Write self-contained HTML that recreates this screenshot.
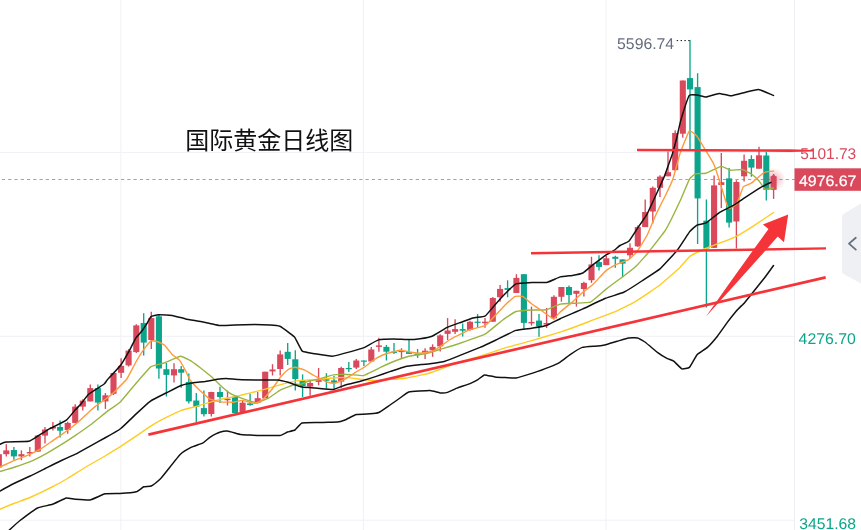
<!DOCTYPE html>
<html lang="zh"><head><meta charset="utf-8"><title>国际黄金日线图</title>
<style>html,body{margin:0;padding:0;background:#fff;overflow:hidden}svg{display:block}</style></head>
<body>
<svg width="861" height="530" viewBox="0 0 861 530">
<rect width="861" height="530" fill="#fff"/>
<line x1="120.9" y1="0" x2="120.9" y2="530" stroke="#f0f1f6" stroke-width="1"/>
<line x1="363.4" y1="0" x2="363.4" y2="530" stroke="#f0f1f6" stroke-width="1"/>
<line x1="606.0" y1="0" x2="606.0" y2="530" stroke="#f0f1f6" stroke-width="1"/>
<line x1="0" y1="152.4" x2="794.5" y2="152.4" stroke="#f0f1f6" stroke-width="1"/>
<line x1="0" y1="336.3" x2="794.5" y2="336.3" stroke="#f0f1f6" stroke-width="1"/>
<line x1="0" y1="520.2" x2="794.5" y2="520.2" stroke="#f0f1f6" stroke-width="1"/>
<line x1="794.5" y1="0" x2="794.5" y2="530" stroke="#eceef4" stroke-width="1"/>
<line x1="-4.37" y1="179.5" x2="795" y2="179.5" stroke="#e4858f" stroke-width="1" stroke-dasharray="3.2 3.07"/>
<line x1="-1.20" y1="452.5" x2="-1.20" y2="468.5" stroke="#d9485b" stroke-width="1.35"/>
<rect x="-4.25" y="454.2" width="6.1" height="13.3" fill="#d9485b"/>
<line x1="6.30" y1="444.3" x2="6.30" y2="456.4" stroke="#d9485b" stroke-width="1.35"/>
<rect x="3.25" y="450.4" width="6.1" height="3.8" fill="#d9485b"/>
<line x1="13.90" y1="447" x2="13.90" y2="459.7" stroke="#0ca48b" stroke-width="1.35"/>
<rect x="10.85" y="450" width="6.1" height="6.4" fill="#0ca48b"/>
<line x1="21.40" y1="450.4" x2="21.40" y2="460.2" stroke="#d9485b" stroke-width="1.35"/>
<rect x="18.35" y="454.2" width="6.1" height="2.2" fill="#d9485b"/>
<line x1="29.80" y1="447" x2="29.80" y2="456.4" stroke="#d9485b" stroke-width="1.35"/>
<rect x="26.75" y="452" width="6.1" height="1.4" fill="#d9485b"/>
<line x1="37.80" y1="435" x2="37.80" y2="452" stroke="#d9485b" stroke-width="1.35"/>
<rect x="34.75" y="435.6" width="6.1" height="16.0" fill="#d9485b"/>
<line x1="45.00" y1="427" x2="45.00" y2="443.6" stroke="#d9485b" stroke-width="1.35"/>
<rect x="41.95" y="429.5" width="6.1" height="6.1" fill="#d9485b"/>
<line x1="52.90" y1="422" x2="52.90" y2="430.4" stroke="#d9485b" stroke-width="1.35"/>
<rect x="49.85" y="427" width="6.1" height="1.5" fill="#d9485b"/>
<line x1="60.10" y1="420.5" x2="60.10" y2="437.5" stroke="#0ca48b" stroke-width="1.35"/>
<rect x="57.05" y="427" width="6.1" height="3.7" fill="#0ca48b"/>
<line x1="67.70" y1="421.7" x2="67.70" y2="433.8" stroke="#d9485b" stroke-width="1.35"/>
<rect x="64.65" y="422.9" width="6.1" height="7.1" fill="#d9485b"/>
<line x1="75.20" y1="404.3" x2="75.20" y2="423.2" stroke="#d9485b" stroke-width="1.35"/>
<rect x="72.15" y="406.6" width="6.1" height="16.3" fill="#d9485b"/>
<line x1="82.80" y1="399.2" x2="82.80" y2="410.4" stroke="#d9485b" stroke-width="1.35"/>
<rect x="79.75" y="400.6" width="6.1" height="6.0" fill="#d9485b"/>
<line x1="90.30" y1="384.4" x2="90.30" y2="401.4" stroke="#d9485b" stroke-width="1.35"/>
<rect x="87.25" y="388.1" width="6.1" height="13.3" fill="#d9485b"/>
<line x1="97.90" y1="384.4" x2="97.90" y2="410.4" stroke="#0ca48b" stroke-width="1.35"/>
<rect x="94.85" y="388.1" width="6.1" height="14.5" fill="#0ca48b"/>
<line x1="105.40" y1="393" x2="105.40" y2="408.9" stroke="#d9485b" stroke-width="1.35"/>
<rect x="102.35" y="395.3" width="6.1" height="6.1" fill="#d9485b"/>
<line x1="113.50" y1="372.7" x2="113.50" y2="395" stroke="#d9485b" stroke-width="1.35"/>
<rect x="110.45" y="373" width="6.1" height="20.8" fill="#d9485b"/>
<line x1="121.10" y1="358.3" x2="121.10" y2="378" stroke="#d9485b" stroke-width="1.35"/>
<rect x="118.05" y="365.8" width="6.1" height="7.0" fill="#d9485b"/>
<line x1="128.60" y1="349.1" x2="128.60" y2="366.5" stroke="#d9485b" stroke-width="1.35"/>
<rect x="125.55" y="350.6" width="6.1" height="14.8" fill="#d9485b"/>
<line x1="136.30" y1="324.2" x2="136.30" y2="352.9" stroke="#d9485b" stroke-width="1.35"/>
<rect x="133.25" y="325.4" width="6.1" height="26.7" fill="#d9485b"/>
<line x1="143.70" y1="313.3" x2="143.70" y2="355.6" stroke="#0ca48b" stroke-width="1.35"/>
<rect x="140.65" y="323" width="6.1" height="19.6" fill="#0ca48b"/>
<line x1="151.30" y1="311.8" x2="151.30" y2="349.1" stroke="#d9485b" stroke-width="1.35"/>
<rect x="148.25" y="318.1" width="6.1" height="21.9" fill="#d9485b"/>
<line x1="158.90" y1="314.4" x2="158.90" y2="378.7" stroke="#0ca48b" stroke-width="1.35"/>
<rect x="155.85" y="316.3" width="6.1" height="52.2" fill="#0ca48b"/>
<line x1="166.40" y1="362.8" x2="166.40" y2="396.5" stroke="#0ca48b" stroke-width="1.35"/>
<rect x="163.35" y="369.2" width="6.1" height="5.7" fill="#0ca48b"/>
<line x1="174.00" y1="363.3" x2="174.00" y2="382.5" stroke="#d9485b" stroke-width="1.35"/>
<rect x="170.95" y="369.2" width="6.1" height="6.2" fill="#d9485b"/>
<line x1="181.20" y1="365.9" x2="181.20" y2="387.8" stroke="#0ca48b" stroke-width="1.35"/>
<rect x="178.15" y="369.2" width="6.1" height="3.5" fill="#0ca48b"/>
<line x1="188.80" y1="373.4" x2="188.80" y2="403.6" stroke="#0ca48b" stroke-width="1.35"/>
<rect x="185.75" y="382" width="6.1" height="19.4" fill="#0ca48b"/>
<line x1="196.30" y1="393" x2="196.30" y2="422" stroke="#0ca48b" stroke-width="1.35"/>
<rect x="193.25" y="400.5" width="6.1" height="6.3" fill="#0ca48b"/>
<line x1="203.90" y1="390.5" x2="203.90" y2="416.5" stroke="#0ca48b" stroke-width="1.35"/>
<rect x="200.85" y="408.1" width="6.1" height="6.1" fill="#0ca48b"/>
<line x1="211.30" y1="391.8" x2="211.30" y2="416.5" stroke="#d9485b" stroke-width="1.35"/>
<rect x="208.25" y="392" width="6.1" height="22.0" fill="#d9485b"/>
<line x1="220.00" y1="386.8" x2="220.00" y2="403" stroke="#0ca48b" stroke-width="1.35"/>
<rect x="216.95" y="392" width="6.1" height="5.0" fill="#0ca48b"/>
<line x1="227.50" y1="390.6" x2="227.50" y2="405.5" stroke="#d9485b" stroke-width="1.35"/>
<rect x="224.45" y="398.7" width="6.1" height="1.5" fill="#d9485b"/>
<line x1="235.00" y1="396.6" x2="235.00" y2="413.3" stroke="#0ca48b" stroke-width="1.35"/>
<rect x="231.95" y="396.7" width="6.1" height="16.3" fill="#0ca48b"/>
<line x1="242.60" y1="400.4" x2="242.60" y2="412.2" stroke="#d9485b" stroke-width="1.35"/>
<rect x="239.55" y="402.7" width="6.1" height="9.3" fill="#d9485b"/>
<line x1="250.10" y1="393.6" x2="250.10" y2="405.7" stroke="#0ca48b" stroke-width="1.35"/>
<rect x="247.05" y="403.4" width="6.1" height="1.6" fill="#0ca48b"/>
<line x1="257.70" y1="392.1" x2="257.70" y2="403.4" stroke="#d9485b" stroke-width="1.35"/>
<rect x="254.65" y="398.2" width="6.1" height="4.5" fill="#d9485b"/>
<line x1="265.20" y1="371.7" x2="265.20" y2="398.2" stroke="#d9485b" stroke-width="1.35"/>
<rect x="262.15" y="371.7" width="6.1" height="26.5" fill="#d9485b"/>
<line x1="272.50" y1="364.2" x2="272.50" y2="375.5" stroke="#d9485b" stroke-width="1.35"/>
<rect x="269.45" y="369.5" width="6.1" height="1.9" fill="#d9485b"/>
<line x1="280.20" y1="350.6" x2="280.20" y2="375.5" stroke="#d9485b" stroke-width="1.35"/>
<rect x="277.15" y="354.4" width="6.1" height="14.6" fill="#d9485b"/>
<line x1="287.70" y1="343" x2="287.70" y2="364.9" stroke="#0ca48b" stroke-width="1.35"/>
<rect x="284.65" y="351.8" width="6.1" height="7.1" fill="#0ca48b"/>
<line x1="295.30" y1="350.3" x2="295.30" y2="390.6" stroke="#0ca48b" stroke-width="1.35"/>
<rect x="292.25" y="359.3" width="6.1" height="19.7" fill="#0ca48b"/>
<line x1="302.60" y1="374.4" x2="302.60" y2="397" stroke="#0ca48b" stroke-width="1.35"/>
<rect x="299.55" y="380" width="6.1" height="6.0" fill="#0ca48b"/>
<line x1="310.10" y1="379.7" x2="310.10" y2="395.7" stroke="#d9485b" stroke-width="1.35"/>
<rect x="307.05" y="383" width="6.1" height="3.5" fill="#d9485b"/>
<line x1="318.60" y1="368" x2="318.60" y2="385.3" stroke="#d9485b" stroke-width="1.35"/>
<rect x="315.55" y="380.1" width="6.1" height="1.8" fill="#d9485b"/>
<line x1="326.40" y1="373.2" x2="326.40" y2="388.7" stroke="#0ca48b" stroke-width="1.35"/>
<rect x="323.35" y="379.2" width="6.1" height="1.5" fill="#0ca48b"/>
<line x1="334.00" y1="375.9" x2="334.00" y2="388.7" stroke="#0ca48b" stroke-width="1.35"/>
<rect x="330.95" y="380.4" width="6.1" height="2.3" fill="#0ca48b"/>
<line x1="341.20" y1="366.8" x2="341.20" y2="388" stroke="#d9485b" stroke-width="1.35"/>
<rect x="338.15" y="368" width="6.1" height="13.6" fill="#d9485b"/>
<line x1="348.80" y1="362" x2="348.80" y2="372.1" stroke="#0ca48b" stroke-width="1.35"/>
<rect x="345.75" y="368" width="6.1" height="1.2" fill="#0ca48b"/>
<line x1="356.30" y1="359" x2="356.30" y2="369.1" stroke="#d9485b" stroke-width="1.35"/>
<rect x="353.25" y="360.5" width="6.1" height="7.1" fill="#d9485b"/>
<line x1="363.90" y1="360.5" x2="363.90" y2="366.1" stroke="#0ca48b" stroke-width="1.35"/>
<rect x="360.85" y="360.5" width="6.1" height="1.2" fill="#0ca48b"/>
<line x1="371.30" y1="346.9" x2="371.30" y2="362" stroke="#d9485b" stroke-width="1.35"/>
<rect x="368.25" y="349.5" width="6.1" height="12.0" fill="#d9485b"/>
<line x1="378.90" y1="337.8" x2="378.90" y2="351.7" stroke="#d9485b" stroke-width="1.35"/>
<rect x="375.85" y="345.4" width="6.1" height="1.5" fill="#d9485b"/>
<line x1="386.40" y1="344.9" x2="386.40" y2="360.5" stroke="#0ca48b" stroke-width="1.35"/>
<rect x="383.35" y="346.9" width="6.1" height="4.8" fill="#0ca48b"/>
<line x1="394.00" y1="343" x2="394.00" y2="354" stroke="#0ca48b" stroke-width="1.35"/>
<rect x="390.95" y="351.7" width="6.1" height="1.2" fill="#0ca48b"/>
<line x1="401.50" y1="348.2" x2="401.50" y2="357.9" stroke="#d9485b" stroke-width="1.35"/>
<rect x="398.45" y="350.7" width="6.1" height="1.4" fill="#d9485b"/>
<line x1="409.00" y1="339.2" x2="409.00" y2="353.9" stroke="#0ca48b" stroke-width="1.35"/>
<rect x="405.95" y="352.1" width="6.1" height="1.8" fill="#0ca48b"/>
<line x1="417.60" y1="349" x2="417.60" y2="357.9" stroke="#0ca48b" stroke-width="1.35"/>
<rect x="414.55" y="353.9" width="6.1" height="1.3" fill="#0ca48b"/>
<line x1="425.10" y1="348.2" x2="425.10" y2="358.9" stroke="#d9485b" stroke-width="1.35"/>
<rect x="422.05" y="350.7" width="6.1" height="2.1" fill="#d9485b"/>
<line x1="432.60" y1="344.3" x2="432.60" y2="356.8" stroke="#d9485b" stroke-width="1.35"/>
<rect x="429.55" y="346.9" width="6.1" height="3.4" fill="#d9485b"/>
<line x1="440.20" y1="334.3" x2="440.20" y2="351.6" stroke="#d9485b" stroke-width="1.35"/>
<rect x="437.15" y="335.4" width="6.1" height="11.0" fill="#d9485b"/>
<line x1="447.60" y1="318.1" x2="447.60" y2="340.1" stroke="#d9485b" stroke-width="1.35"/>
<rect x="444.55" y="330.5" width="6.1" height="3.4" fill="#d9485b"/>
<line x1="455.10" y1="319.2" x2="455.10" y2="333.9" stroke="#d9485b" stroke-width="1.35"/>
<rect x="452.05" y="329.1" width="6.1" height="2.7" fill="#d9485b"/>
<line x1="462.70" y1="323.5" x2="462.70" y2="336.6" stroke="#0ca48b" stroke-width="1.35"/>
<rect x="459.65" y="329.1" width="6.1" height="1.6" fill="#0ca48b"/>
<line x1="470.00" y1="320.7" x2="470.00" y2="330.7" stroke="#d9485b" stroke-width="1.35"/>
<rect x="466.95" y="321.8" width="6.1" height="8.1" fill="#d9485b"/>
<line x1="477.60" y1="314.1" x2="477.60" y2="327.1" stroke="#0ca48b" stroke-width="1.35"/>
<rect x="474.55" y="321.7" width="6.1" height="1.2" fill="#0ca48b"/>
<line x1="485.00" y1="318" x2="485.00" y2="327.7" stroke="#d9485b" stroke-width="1.35"/>
<rect x="481.95" y="321.7" width="6.1" height="1.5" fill="#d9485b"/>
<line x1="492.80" y1="296.9" x2="492.80" y2="321.7" stroke="#d9485b" stroke-width="1.35"/>
<rect x="489.75" y="298" width="6.1" height="23.7" fill="#d9485b"/>
<line x1="500.10" y1="285.1" x2="500.10" y2="301.7" stroke="#d9485b" stroke-width="1.35"/>
<rect x="497.05" y="288.9" width="6.1" height="8.3" fill="#d9485b"/>
<line x1="507.60" y1="280.3" x2="507.60" y2="297.2" stroke="#0ca48b" stroke-width="1.35"/>
<rect x="504.55" y="288.1" width="6.1" height="1.8" fill="#0ca48b"/>
<line x1="516.40" y1="274.2" x2="516.40" y2="293" stroke="#d9485b" stroke-width="1.35"/>
<rect x="513.35" y="277.9" width="6.1" height="15.1" fill="#d9485b"/>
<line x1="523.90" y1="274.2" x2="523.90" y2="328.9" stroke="#0ca48b" stroke-width="1.35"/>
<rect x="520.85" y="274.2" width="6.1" height="48.7" fill="#0ca48b"/>
<line x1="531.50" y1="306.6" x2="531.50" y2="325.6" stroke="#d9485b" stroke-width="1.35"/>
<rect x="528.45" y="321.9" width="6.1" height="1.5" fill="#d9485b"/>
<line x1="539.00" y1="314.1" x2="539.00" y2="336.8" stroke="#0ca48b" stroke-width="1.35"/>
<rect x="535.95" y="320.6" width="6.1" height="5.7" fill="#0ca48b"/>
<line x1="546.60" y1="308" x2="546.60" y2="328" stroke="#d9485b" stroke-width="1.35"/>
<rect x="543.55" y="323" width="6.1" height="1.5" fill="#d9485b"/>
<line x1="553.90" y1="295.3" x2="553.90" y2="319.5" stroke="#d9485b" stroke-width="1.35"/>
<rect x="550.85" y="296.8" width="6.1" height="21.5" fill="#d9485b"/>
<line x1="561.40" y1="287" x2="561.40" y2="301.7" stroke="#d9485b" stroke-width="1.35"/>
<rect x="558.35" y="287" width="6.1" height="9.8" fill="#d9485b"/>
<line x1="569.00" y1="285.5" x2="569.00" y2="303.2" stroke="#0ca48b" stroke-width="1.35"/>
<rect x="565.95" y="287" width="6.1" height="8.0" fill="#0ca48b"/>
<line x1="576.40" y1="290.8" x2="576.40" y2="306.6" stroke="#d9485b" stroke-width="1.35"/>
<rect x="573.35" y="290.8" width="6.1" height="3.0" fill="#d9485b"/>
<line x1="583.90" y1="281.7" x2="583.90" y2="296.5" stroke="#d9485b" stroke-width="1.35"/>
<rect x="580.85" y="282.9" width="6.1" height="6.1" fill="#d9485b"/>
<line x1="591.50" y1="256.8" x2="591.50" y2="282.9" stroke="#d9485b" stroke-width="1.35"/>
<rect x="588.45" y="264.4" width="6.1" height="15.8" fill="#d9485b"/>
<line x1="599.00" y1="255.3" x2="599.00" y2="270.4" stroke="#0ca48b" stroke-width="1.35"/>
<rect x="595.95" y="262.1" width="6.1" height="4.8" fill="#0ca48b"/>
<line x1="606.30" y1="255.7" x2="606.30" y2="265.1" stroke="#d9485b" stroke-width="1.35"/>
<rect x="603.25" y="258.3" width="6.1" height="6.8" fill="#d9485b"/>
<line x1="615.30" y1="255.7" x2="615.30" y2="267.8" stroke="#0ca48b" stroke-width="1.35"/>
<rect x="612.25" y="256.8" width="6.1" height="2.0" fill="#0ca48b"/>
<line x1="622.60" y1="259.4" x2="622.60" y2="277.2" stroke="#0ca48b" stroke-width="1.35"/>
<rect x="619.55" y="259.4" width="6.1" height="4.2" fill="#0ca48b"/>
<line x1="630.00" y1="243.3" x2="630.00" y2="259.1" stroke="#d9485b" stroke-width="1.35"/>
<rect x="626.95" y="247.8" width="6.1" height="7.5" fill="#d9485b"/>
<line x1="637.80" y1="225.6" x2="637.80" y2="247" stroke="#d9485b" stroke-width="1.35"/>
<rect x="634.75" y="227.1" width="6.1" height="19.2" fill="#d9485b"/>
<line x1="645.20" y1="199.5" x2="645.20" y2="227.1" stroke="#d9485b" stroke-width="1.35"/>
<rect x="642.15" y="212" width="6.1" height="15.1" fill="#d9485b"/>
<line x1="652.80" y1="186.6" x2="652.80" y2="223.6" stroke="#d9485b" stroke-width="1.35"/>
<rect x="649.75" y="187.8" width="6.1" height="23.7" fill="#d9485b"/>
<line x1="660.00" y1="175.3" x2="660.00" y2="196.9" stroke="#d9485b" stroke-width="1.35"/>
<rect x="656.95" y="176.6" width="6.1" height="11.2" fill="#d9485b"/>
<line x1="668.00" y1="151.4" x2="668.00" y2="176.3" stroke="#d9485b" stroke-width="1.35"/>
<rect x="664.95" y="172.2" width="6.1" height="4.1" fill="#d9485b"/>
<line x1="675.20" y1="130.2" x2="675.20" y2="171" stroke="#d9485b" stroke-width="1.35"/>
<rect x="672.15" y="132.9" width="6.1" height="37.3" fill="#d9485b"/>
<line x1="682.80" y1="80.5" x2="682.80" y2="137.8" stroke="#d9485b" stroke-width="1.35"/>
<rect x="679.75" y="80.5" width="6.1" height="53.2" fill="#d9485b"/>
<line x1="690.00" y1="39.9" x2="690.00" y2="149.1" stroke="#0ca48b" stroke-width="1.35"/>
<rect x="686.95" y="78.1" width="6.1" height="11.3" fill="#0ca48b"/>
<line x1="697.60" y1="73.2" x2="697.60" y2="244" stroke="#0ca48b" stroke-width="1.35"/>
<rect x="694.55" y="87.1" width="6.1" height="111.3" fill="#0ca48b"/>
<line x1="706.40" y1="199.5" x2="706.40" y2="307.6" stroke="#0ca48b" stroke-width="1.35"/>
<rect x="703.35" y="220.6" width="6.1" height="27.9" fill="#0ca48b"/>
<line x1="714.10" y1="175.6" x2="714.10" y2="248" stroke="#d9485b" stroke-width="1.35"/>
<rect x="711.05" y="185.4" width="6.1" height="62.4" fill="#d9485b"/>
<line x1="721.30" y1="153" x2="721.30" y2="208" stroke="#d9485b" stroke-width="1.35"/>
<rect x="718.25" y="182.2" width="6.1" height="2.8" fill="#d9485b"/>
<line x1="729.10" y1="168" x2="729.10" y2="227.6" stroke="#0ca48b" stroke-width="1.35"/>
<rect x="726.05" y="178.4" width="6.1" height="44.2" fill="#0ca48b"/>
<line x1="736.40" y1="180.3" x2="736.40" y2="248.5" stroke="#d9485b" stroke-width="1.35"/>
<rect x="733.35" y="182" width="6.1" height="39.5" fill="#d9485b"/>
<line x1="744.10" y1="154.4" x2="744.10" y2="181.4" stroke="#d9485b" stroke-width="1.35"/>
<rect x="741.05" y="160.8" width="6.1" height="15.5" fill="#d9485b"/>
<line x1="751.40" y1="155.3" x2="751.40" y2="176.7" stroke="#0ca48b" stroke-width="1.35"/>
<rect x="748.35" y="159" width="6.1" height="8.6" fill="#0ca48b"/>
<line x1="759.00" y1="146.8" x2="759.00" y2="168.7" stroke="#d9485b" stroke-width="1.35"/>
<rect x="755.95" y="155.3" width="6.1" height="13.4" fill="#d9485b"/>
<line x1="766.30" y1="152" x2="766.30" y2="200.4" stroke="#0ca48b" stroke-width="1.35"/>
<rect x="763.25" y="155.5" width="6.1" height="34.3" fill="#0ca48b"/>
<line x1="773.60" y1="174" x2="773.60" y2="198.9" stroke="#d9485b" stroke-width="1.35"/>
<rect x="770.55" y="176.3" width="6.1" height="13.5" fill="#d9485b"/>
<polygon points="770.5,177.5 773.6,174.2 776.7,177.5" fill="#d9485b"/>
<defs><radialGradient id="gl"><stop offset="0" stop-color="#d9485b" stop-opacity=".42"/><stop offset="1" stop-color="#d9485b" stop-opacity="0"/></radialGradient></defs>
<circle cx="773.6" cy="179.5" r="12" fill="url(#gl)"/>
<path d="M0.0 509.3 C0.9 508.9 13.2 503.7 15.0 503.0 C16.8 502.3 28.0 498.4 30.0 497.5 C32.0 496.6 47.8 489.1 50.0 488.0 C52.2 486.9 65.5 479.7 67.5 478.5 C69.5 477.3 82.8 468.8 85.0 467.5 C87.2 466.2 103.0 457.2 105.0 456.0 C107.0 454.8 118.2 447.9 120.0 446.8 C121.8 445.7 133.3 438.0 135.1 436.8 C136.9 435.6 148.4 427.4 150.2 426.3 C152.0 425.2 163.5 418.8 165.3 417.9 C167.1 417.0 178.6 411.5 180.4 410.8 C182.2 410.1 193.7 407.1 195.5 406.6 C197.3 406.1 208.8 402.6 210.6 402.1 C212.4 401.6 224.3 398.6 225.7 398.3 C227.1 398.0 233.9 396.9 235.3 396.6 C236.7 396.3 248.6 393.3 250.4 392.9 C252.2 392.5 263.7 389.6 265.5 389.1 C267.3 388.6 278.8 385.1 280.6 384.6 C282.4 384.1 294.1 381.4 295.7 381.1 C297.3 380.8 306.7 380.1 307.8 380.0 C308.9 379.9 313.8 379.8 315.1 379.7 C316.4 379.6 328.4 378.3 330.2 378.2 C332.0 378.1 343.5 377.3 345.3 377.4 C347.1 377.5 358.6 379.0 360.4 379.2 C362.2 379.4 373.7 380.4 375.5 380.4 C377.3 380.4 388.8 379.5 390.6 379.4 C392.4 379.3 403.9 378.5 405.7 378.2 C407.5 377.9 419.4 375.4 420.8 375.1 C422.2 374.8 428.0 373.7 430.0 373.0 C432.0 372.3 452.1 364.7 455.0 363.7 C457.9 362.7 477.1 357.1 480.0 356.2 C482.9 355.3 502.1 348.8 505.0 347.9 C507.9 347.0 527.1 342.0 530.0 341.2 C532.9 340.4 552.9 334.4 555.0 333.7 C557.1 333.0 564.2 330.7 566.3 330.0 C568.4 329.3 587.6 322.1 590.4 321.0 C593.2 319.9 612.0 313.0 614.6 311.9 C617.2 310.8 633.1 303.0 635.7 301.4 C638.3 299.8 657.4 287.0 660.0 285.0 C662.6 283.0 678.3 269.1 680.0 267.4 C681.7 265.7 688.4 257.5 689.8 256.4 C691.2 255.3 702.9 249.7 704.5 249.0 C706.1 248.3 714.9 244.8 716.8 244.1 C718.7 243.4 734.3 237.4 736.4 236.3 C738.5 235.2 751.4 227.2 753.6 225.8 C755.8 224.4 772.3 213.3 773.5 212.5" fill="none" stroke="#ffcc22" stroke-width="1.4" stroke-linejoin="round" stroke-linecap="round"/>
<path d="M0.0 471.5 C0.9 471.2 13.3 467.6 15.1 467.0 C16.9 466.4 28.4 462.4 30.2 461.7 C32.0 461.0 43.5 455.2 45.3 454.2 C47.1 453.2 58.6 446.2 60.4 445.1 C62.2 444.0 73.7 436.5 75.5 435.3 C77.3 434.1 88.8 426.0 90.6 424.7 C92.4 423.4 103.9 414.0 105.7 412.6 C107.5 411.2 119.0 403.2 120.8 401.4 C122.6 399.6 135.6 383.7 137.4 381.7 C139.2 379.7 149.4 367.7 151.0 366.6 C152.6 365.5 162.9 363.4 164.6 362.8 C166.3 362.2 179.0 356.4 180.5 356.3 C182.0 356.2 189.2 360.0 190.0 360.4 C190.8 360.8 194.2 363.2 194.8 363.6 C195.4 364.0 199.6 367.2 200.6 368.0 C201.6 368.8 211.6 376.8 212.7 377.8 C213.8 378.8 219.2 384.4 220.2 385.3 C221.2 386.2 228.1 392.1 229.3 392.9 C230.5 393.7 239.8 397.6 241.4 398.2 C243.0 398.8 254.9 402.7 256.5 402.7 C258.1 402.7 267.1 398.9 268.5 398.2 C269.9 397.5 279.0 390.7 280.6 389.9 C282.2 389.1 294.6 384.6 295.7 384.3 C296.8 384.0 299.2 384.7 300.0 384.5 C300.8 384.3 307.8 381.3 309.0 381.0 C310.2 380.7 318.8 379.1 320.0 378.8 C321.2 378.5 329.1 375.9 330.2 375.6 C331.3 375.3 338.1 374.5 339.3 374.4 C340.5 374.3 350.0 374.6 351.4 374.7 C352.8 374.8 362.3 375.8 363.4 375.6 C364.5 375.4 369.9 372.6 371.0 372.1 C372.1 371.6 380.3 367.4 381.6 366.8 C382.9 366.2 392.1 362.1 393.7 361.5 C395.3 360.9 407.2 356.7 408.8 356.3 C410.4 355.9 419.6 354.6 420.8 354.4 C422.0 354.2 429.0 352.8 430.0 352.5 C431.0 352.2 436.5 350.5 438.1 350.0 C439.7 349.5 455.8 344.7 457.8 344.0 C459.8 343.3 471.3 339.3 472.9 338.7 C474.5 338.1 483.7 334.9 485.0 334.2 C486.3 333.5 494.3 326.9 495.5 325.9 C496.7 324.9 504.9 318.4 506.1 317.6 C507.3 316.8 514.4 311.9 515.9 311.5 C517.4 311.1 530.0 310.1 531.8 310.0 C533.6 309.9 544.9 310.0 546.6 309.7 C548.3 309.4 558.5 304.5 560.2 304.1 C561.9 303.7 573.5 303.3 575.3 303.2 C577.1 303.1 588.6 302.9 590.4 302.1 C592.2 301.3 603.7 291.1 605.5 289.6 C607.3 288.1 620.3 278.5 622.1 277.2 C623.9 275.9 634.1 268.1 635.7 266.6 C637.3 265.1 648.5 252.5 649.3 251.5 C650.1 250.5 649.3 251.2 650.2 250.0 C651.1 248.8 663.5 233.3 665.3 230.4 C667.1 227.5 679.0 203.2 680.4 200.2 C681.8 197.2 688.6 180.6 689.5 179.1 C690.4 177.6 694.5 174.1 695.5 173.8 C696.5 173.5 704.5 173.6 706.0 173.2 C707.5 172.8 719.7 166.6 721.1 166.4 C722.5 166.2 729.0 170.0 730.2 170.2 C731.4 170.4 741.1 169.3 742.3 169.5 C743.5 169.7 750.4 173.3 751.4 174.0 C752.4 174.7 758.1 179.9 758.9 180.8 C759.7 181.7 764.2 188.7 765.0 189.1 C765.8 189.5 772.8 188.1 773.3 188.0" fill="none" stroke="#98b540" stroke-width="1.4" stroke-linejoin="round" stroke-linecap="round"/>
<path d="M0.0 467.0 C0.9 466.6 13.3 460.9 15.1 460.2 C16.9 459.5 28.7 454.9 30.2 454.2 C31.7 453.5 39.5 449.7 40.8 448.9 C42.1 448.1 51.3 441.7 52.9 440.6 C54.5 439.5 66.5 431.1 68.0 430.0 C69.5 428.9 77.2 422.8 78.5 421.7 C79.8 420.6 89.6 411.3 90.6 410.4 C91.6 409.5 94.2 407.3 95.1 406.6 C96.0 405.9 104.6 399.8 105.7 399.0 C106.8 398.2 112.0 394.2 113.2 393.0 C114.4 391.8 125.5 380.8 126.8 379.0 C128.1 377.2 134.9 363.7 135.9 362.0 C136.9 360.3 142.5 351.1 143.4 349.9 C144.3 348.7 150.2 341.6 151.0 341.1 C151.8 340.6 156.2 341.3 157.0 341.5 C157.8 341.7 163.7 344.5 164.6 345.3 C165.5 346.1 171.2 353.5 172.1 354.4 C173.0 355.3 178.9 359.4 179.7 360.4 C180.5 361.4 185.1 369.9 185.7 371.0 C186.3 372.1 189.3 379.0 190.0 380.0 C190.7 381.0 196.5 387.2 197.6 388.3 C198.7 389.4 208.3 398.1 209.6 398.9 C210.9 399.7 218.8 401.7 220.2 401.9 C221.6 402.1 232.5 402.3 233.8 402.2 C235.1 402.1 240.9 400.3 242.1 400.4 C243.3 400.5 253.8 403.4 255.0 403.4 C256.2 403.4 261.5 400.5 262.5 399.7 C263.5 398.9 270.5 391.1 271.6 389.8 C272.7 388.5 279.6 378.2 280.6 377.0 C281.6 375.8 287.4 370.1 288.2 369.5 C289.0 368.9 294.0 367.2 295.0 367.2 C296.0 367.2 303.7 369.7 304.8 370.2 C305.9 370.7 313.0 375.0 313.9 375.5 C314.8 376.0 319.3 378.1 320.0 378.5 C320.7 378.9 325.6 381.6 326.4 381.9 C327.2 382.2 333.0 383.5 334.0 383.4 C335.0 383.3 342.5 380.4 343.8 379.7 C345.1 379.0 354.7 372.9 355.9 372.1 C357.1 371.3 364.0 367.5 365.0 366.8 C366.0 366.1 371.5 361.5 372.5 360.8 C373.5 360.1 380.5 356.0 381.6 355.5 C382.7 355.0 389.5 352.8 390.6 352.5 C391.7 352.2 398.6 350.2 399.7 350.2 C400.8 350.2 407.7 351.5 408.8 351.7 C409.9 351.9 418.1 353.2 419.3 353.2 C420.5 353.2 429.1 351.9 430.0 351.7 C430.9 351.5 433.9 350.7 435.1 350.0 C436.3 349.3 448.2 340.7 450.2 339.5 C452.2 338.3 467.8 330.5 469.8 329.7 C471.8 328.9 483.5 326.4 485.0 325.6 C486.5 324.8 494.3 316.6 495.5 315.3 C496.7 314.0 505.0 305.1 506.1 304.0 C507.2 302.9 514.2 296.8 515.2 296.4 C516.2 296.0 521.7 296.0 522.7 296.4 C523.7 296.8 530.8 303.3 531.8 304.0 C532.8 304.7 537.8 308.0 539.1 308.9 C540.4 309.8 552.2 318.5 553.4 318.7 C554.6 318.9 559.1 312.9 560.2 311.9 C561.3 310.9 571.0 303.2 572.3 302.1 C573.6 301.0 581.7 293.4 582.9 292.3 C584.1 291.2 592.1 285.2 593.4 284.0 C594.7 282.8 604.2 272.2 605.5 271.1 C606.8 270.0 614.8 265.1 616.1 264.4 C617.4 263.7 627.1 260.5 628.2 259.8 C629.3 259.1 635.1 253.6 635.7 253.0 C636.3 252.4 637.4 251.1 638.1 250.0 C638.8 248.9 646.1 237.1 647.2 235.0 C648.3 232.9 655.2 216.1 656.3 213.8 C657.4 211.5 664.3 197.7 665.3 195.7 C666.3 193.7 672.0 181.6 672.9 179.1 C673.8 176.6 679.2 155.7 680.2 152.9 C681.2 150.1 688.3 132.0 689.3 131.0 C690.3 130.0 695.9 135.0 696.8 136.0 C697.7 137.0 703.4 146.7 704.4 148.3 C705.4 149.9 712.5 161.3 713.5 163.5 C714.5 165.7 720.3 183.4 721.1 186.0 C721.9 188.6 727.3 206.4 727.9 207.7 C728.5 209.0 731.0 207.8 731.5 207.6 C732.0 207.4 736.4 204.4 736.8 204.0 C737.2 203.6 737.9 201.0 738.1 200.5 C738.3 200.0 739.8 196.0 740.1 195.2 C740.4 194.4 742.9 187.2 743.4 186.6 C743.9 186.0 747.5 184.8 748.0 184.6 C748.5 184.4 751.6 182.9 752.0 182.6 C752.4 182.3 754.9 180.2 755.4 179.8 C755.9 179.4 760.1 175.7 760.7 175.2 C761.3 174.7 765.2 172.1 766.0 171.9 C766.8 171.7 773.2 171.1 773.6 171.1" fill="none" stroke="#ff9a3c" stroke-width="1.4" stroke-linejoin="round" stroke-linecap="round"/>
<path d="M0.0 444.3 C0.3 444.2 4.3 442.2 6.0 442.0 C7.7 441.8 26.8 441.7 28.7 441.3 C30.6 440.9 36.6 436.7 37.8 436.0 C39.0 435.3 48.1 429.6 49.8 428.7 C51.5 427.8 64.9 421.2 66.4 420.1 C67.9 419.0 74.7 410.5 75.5 409.6 C76.3 408.7 79.2 406.0 80.0 405.1 C80.8 404.2 87.7 395.0 89.1 393.8 C90.5 392.6 103.1 384.8 104.2 384.0 C105.3 383.2 106.2 381.1 107.2 380.0 C108.2 378.9 119.5 366.8 120.8 365.0 C122.1 363.2 128.9 351.4 129.8 349.8 C130.7 348.2 135.2 338.9 135.9 337.8 C136.6 336.7 141.3 331.8 141.9 331.0 C142.5 330.2 146.0 325.0 146.5 324.2 C147.0 323.4 150.3 317.1 151.0 316.6 C151.7 316.1 157.3 314.9 158.5 314.8 C159.7 314.7 170.5 315.2 172.1 315.4 C173.7 315.6 184.0 318.5 185.7 318.9 C187.4 319.3 199.4 321.2 200.8 321.5 C202.2 321.8 208.9 323.2 210.0 323.4 C211.1 323.6 218.4 325.4 219.9 325.5 C221.4 325.6 232.9 325.1 234.9 325.0 C236.9 324.9 252.9 324.5 254.9 324.5 C256.9 324.5 268.4 324.9 269.9 325.0 C271.4 325.1 278.7 325.8 279.8 326.2 C280.9 326.6 287.7 331.7 288.6 332.4 C289.5 333.1 294.0 336.3 294.8 337.4 C295.6 338.5 301.1 350.2 302.3 351.2 C303.5 352.2 313.1 353.4 314.8 353.7 C316.6 354.0 330.3 356.3 332.3 356.2 C334.3 356.1 348.0 352.4 349.8 351.9 C351.6 351.4 361.7 348.6 363.4 347.9 C365.1 347.2 376.7 340.4 378.5 339.9 C380.3 339.4 391.9 338.9 393.7 338.9 C395.5 338.9 407.3 339.6 408.8 339.6 C410.3 339.6 418.6 338.9 420.0 338.7 C421.4 338.5 430.5 336.9 432.1 336.2 C433.7 335.5 445.6 328.2 447.2 327.4 C448.8 326.6 457.8 323.4 459.3 322.9 C460.8 322.4 471.4 318.4 472.9 318.0 C474.4 317.6 483.9 316.7 485.0 316.1 C486.1 315.5 491.4 309.1 492.5 307.8 C493.6 306.5 503.2 295.6 504.6 294.2 C506.0 292.8 514.3 284.6 515.9 283.9 C517.5 283.2 530.0 282.5 531.8 282.4 C533.6 282.3 544.9 282.8 546.6 282.5 C548.3 282.2 558.7 277.3 560.2 276.9 C561.7 276.5 571.0 275.6 572.3 275.4 C573.6 275.2 581.7 273.6 582.9 273.0 C584.1 272.4 592.1 265.4 593.4 264.4 C594.7 263.4 604.3 256.1 605.5 255.3 C606.7 254.5 613.8 250.6 614.6 250.0 C615.4 249.4 619.2 246.0 620.0 245.5 C620.8 245.0 628.0 242.1 629.1 241.0 C630.2 239.9 637.0 229.0 638.1 227.4 C639.2 225.8 646.1 215.7 647.2 213.8 C648.3 211.9 655.3 196.3 656.3 194.2 C657.3 192.1 663.2 179.0 663.8 177.6 C664.4 176.2 666.1 171.6 666.6 170.2 C667.1 168.8 672.1 155.0 672.7 152.9 C673.3 150.8 677.0 136.8 677.4 135.0 C677.8 133.2 679.9 123.9 680.2 122.7 C680.5 121.5 681.8 116.8 682.3 115.2 C682.8 113.6 688.4 96.6 689.3 95.4 C690.2 94.2 696.2 94.9 697.2 95.0 C698.2 95.1 704.8 97.1 706.1 97.0 C707.4 96.9 717.6 93.5 719.0 93.4 C720.4 93.3 729.4 95.9 730.9 95.8 C732.4 95.7 743.1 92.8 744.7 92.4 C746.3 92.0 756.9 89.2 758.6 89.4 C760.3 89.6 772.6 95.1 773.5 95.4" fill="none" stroke="#111" stroke-width="1.5" stroke-linejoin="round" stroke-linecap="round"/>
<path d="M0.0 491.0 C0.9 490.5 13.2 483.9 15.0 483.0 C16.8 482.1 28.4 476.8 30.2 476.0 C32.0 475.2 43.5 469.4 45.3 468.5 C47.1 467.6 58.6 461.8 60.4 461.0 C62.2 460.2 73.7 455.1 75.5 454.2 C77.3 453.3 88.8 446.8 90.6 445.8 C92.4 444.8 103.9 438.5 105.7 437.5 C107.5 436.5 119.1 429.8 120.8 428.5 C122.5 427.2 133.4 416.5 135.1 414.9 C136.8 413.3 148.4 402.6 150.2 401.3 C152.0 400.0 164.3 393.9 166.1 393.0 C167.9 392.1 179.5 386.1 181.2 385.5 C182.9 384.9 193.4 382.7 194.8 382.5 C196.2 382.3 203.8 381.7 205.1 381.5 C206.4 381.3 216.0 379.5 217.2 379.3 C218.4 379.1 225.1 378.5 226.3 378.5 C227.5 378.5 236.5 379.5 238.3 379.6 C240.1 379.7 255.7 380.0 258.0 380.0 C260.3 380.0 275.8 379.9 277.6 380.0 C279.4 380.1 286.8 381.9 288.2 382.3 C289.6 382.7 300.2 386.8 301.8 387.1 C303.4 387.4 313.3 387.9 315.1 388.0 C316.9 388.1 331.4 389.7 333.2 389.5 C335.0 389.3 343.7 385.5 345.3 385.0 C346.9 384.5 358.6 381.7 360.4 381.2 C362.2 380.7 373.7 377.2 375.5 376.6 C377.3 376.0 388.8 372.0 390.6 371.4 C392.4 370.8 403.9 366.9 405.7 366.5 C407.5 366.1 419.4 364.8 420.8 364.6 C422.2 364.4 428.6 363.9 430.0 363.7 C431.4 363.5 443.2 361.7 445.0 361.2 C446.8 360.7 458.0 356.2 460.0 355.4 C462.0 354.6 477.9 348.3 480.0 347.4 C482.1 346.5 493.4 341.2 495.5 340.2 C497.6 339.2 513.8 331.1 515.9 330.4 C518.0 329.7 530.0 328.5 531.8 328.2 C533.6 327.9 544.9 326.1 546.6 325.5 C548.3 324.9 558.1 319.7 560.2 318.7 C562.3 317.7 580.3 310.1 582.9 308.9 C585.5 307.7 603.1 299.3 605.5 298.3 C607.9 297.3 621.6 293.3 623.7 292.3 C625.8 291.3 639.7 282.4 641.8 281.0 C643.9 279.6 657.9 270.7 660.0 268.9 C662.1 267.1 675.7 252.2 677.4 250.0 C679.1 247.8 688.4 233.4 689.5 231.9 C690.6 230.4 696.0 225.6 697.0 225.1 C698.0 224.6 704.8 223.6 706.1 222.9 C707.4 222.2 718.0 213.4 719.7 212.3 C721.4 211.2 733.3 205.6 734.8 204.7 C736.3 203.8 743.8 198.4 745.3 197.4 C746.8 196.4 758.9 188.5 760.4 187.6 C761.9 186.7 770.4 182.6 771.0 182.3" fill="none" stroke="#111" stroke-width="1.5" stroke-linejoin="round" stroke-linecap="round"/>
<path d="M0.0 540.0 C0.5 539.4 7.6 531.6 8.8 530.5 C10.0 529.4 18.3 521.8 20.0 520.5 C21.7 519.2 35.6 508.9 37.5 508.0 C39.4 507.1 50.8 504.9 52.5 504.3 C54.2 503.7 65.0 498.3 66.3 498.0 C67.6 497.7 73.6 499.2 75.0 499.3 C76.4 499.4 88.2 500.3 90.0 500.0 C91.8 499.7 103.2 494.2 105.0 493.8 C106.8 493.4 118.2 493.6 120.0 493.5 C121.8 493.4 134.9 492.2 136.3 491.8 C137.7 491.4 142.9 487.1 143.8 486.8 C144.7 486.5 150.4 486.4 151.3 486.0 C152.2 485.6 159.0 480.2 160.0 479.3 C161.0 478.4 166.4 471.5 167.6 470.0 C168.8 468.5 179.0 455.5 180.4 454.2 C181.8 452.9 189.7 448.1 191.0 447.4 C192.3 446.7 202.0 443.5 203.1 442.9 C204.2 442.3 209.6 437.4 210.6 436.8 C211.6 436.2 218.7 432.6 219.7 432.3 C220.7 432.0 226.1 431.0 227.3 431.1 C228.5 431.2 239.5 434.4 240.8 434.6 C242.1 434.8 248.9 434.9 250.0 435.0 C251.1 435.1 258.2 435.5 260.0 435.5 C261.8 435.5 278.4 435.7 280.0 435.5 C281.6 435.3 286.6 432.3 287.5 432.0 C288.4 431.7 294.2 430.5 295.0 430.0 C295.8 429.5 300.5 423.4 302.0 423.0 C303.5 422.6 317.9 422.6 320.0 422.5 C322.1 422.4 336.0 422.1 337.5 422.0 C339.0 421.9 343.9 420.4 345.0 420.0 C346.1 419.6 354.8 414.9 356.3 414.5 C357.8 414.1 368.7 413.9 370.0 413.8 C371.3 413.7 377.6 413.0 378.8 412.5 C380.0 412.0 388.8 405.8 390.0 405.0 C391.2 404.2 398.9 398.8 400.0 398.0 C401.1 397.2 407.1 392.4 408.8 392.0 C410.6 391.6 428.2 390.5 430.0 390.6 C431.8 390.7 439.0 392.8 440.0 392.9 C441.0 393.0 446.5 392.7 447.5 392.4 C448.5 392.1 456.2 388.4 457.5 387.9 C458.8 387.4 468.8 384.1 470.0 383.6 C471.2 383.1 476.7 380.4 477.5 379.9 C478.3 379.4 483.4 375.1 484.4 374.9 C485.4 374.7 493.2 376.7 495.0 376.9 C496.8 377.1 513.8 378.2 516.1 377.9 C518.4 377.6 532.9 373.0 534.9 372.4 C536.9 371.8 548.4 367.5 549.9 366.9 C551.4 366.3 558.6 363.1 559.8 362.4 C561.0 361.7 568.5 355.8 569.8 354.9 C571.1 354.0 580.8 347.9 582.3 347.4 C583.8 346.9 593.5 346.3 594.8 346.2 C596.1 346.1 603.5 345.2 604.8 344.9 C606.1 344.6 615.9 341.6 617.3 341.2 C618.7 340.8 627.3 338.2 628.5 338.0 C629.7 337.8 636.5 337.7 637.5 337.9 C638.5 338.1 643.7 341.2 644.9 342.0 C646.1 342.8 656.1 351.4 657.4 352.4 C658.7 353.4 666.4 358.1 667.4 358.6 C668.4 359.1 672.9 360.5 673.7 361.1 C674.5 361.7 681.0 368.5 681.9 368.9 C682.8 369.3 688.5 368.2 689.4 367.4 C690.3 366.6 695.9 356.1 696.9 354.9 C697.9 353.7 706.2 348.5 707.4 347.4 C708.6 346.3 716.2 337.7 717.4 336.2 C718.6 334.7 726.2 323.9 727.3 322.4 C728.4 320.9 735.1 312.4 736.1 311.2 C737.1 310.0 743.7 303.6 744.8 302.4 C745.9 301.2 753.6 291.5 754.8 290.0 C756.0 288.5 763.7 278.9 764.8 277.5 C765.9 276.1 773.0 266.2 773.5 265.5" fill="none" stroke="#111" stroke-width="1.5" stroke-linejoin="round" stroke-linecap="round"/>
<line x1="148.4" y1="434.6" x2="825.7" y2="277.3" stroke="#f5343a" stroke-width="2.8"/>
<line x1="531" y1="253.3" x2="826" y2="248.4" stroke="#f5343a" stroke-width="2.4"/>
<polygon points="637,148.7 790,149.3 814,149.9 814,151.4 790,151.9 637,151.3" fill="#f5343a"/>
<path d="M705.8 316.8 Q736 273.5 768.5 229.1 L762.9 224.5 L788.2 214.6 L784 242.2 L777.8 236.6 Q742.5 276.5 705.8 316.8 Z" fill="#f5343a"/>
<rect x="676.7" y="40.0" width="1.4" height="1.1" fill="#222"/>
<rect x="680.6" y="40.0" width="1.4" height="1.1" fill="#222"/>
<rect x="684.4" y="40.0" width="1.4" height="1.1" fill="#222"/>
<rect x="688.2" y="40.0" width="1.4" height="1.1" fill="#222"/>
<text x="617.1" y="48.8" font-family="'Liberation Sans', sans-serif" font-size="15.5" textLength="57" lengthAdjust="spacingAndGlyphs" text-rendering="geometricPrecision" fill="#646b7e">5596.74</text>
<text x="800.2" y="158.6" font-family="'Liberation Sans', sans-serif" font-size="15.5" textLength="56" lengthAdjust="spacingAndGlyphs" text-rendering="geometricPrecision" fill="#d9485b">5101.73</text>
<rect x="794.5" y="168.3" width="67" height="22.5" fill="#d9485b"/>
<text x="799" y="185.8" font-family="'Liberation Sans', sans-serif" font-size="15.1" textLength="57.3" lengthAdjust="spacingAndGlyphs" text-rendering="geometricPrecision" fill="#fff" stroke="#fff" stroke-width="0.25">4976.67</text>
<text x="798.6" y="343.8" font-family="'Liberation Sans', sans-serif" font-size="15.5" textLength="57.2" lengthAdjust="spacingAndGlyphs" text-rendering="geometricPrecision" fill="#0ca48b">4276.70</text>
<text x="799.2" y="528.6" font-family="'Liberation Sans', sans-serif" font-size="15.5" textLength="56.8" lengthAdjust="spacingAndGlyphs" text-rendering="geometricPrecision" fill="#0ca48b">3451.68</text>
<text x="185.3" y="149.3" font-family="'Liberation Sans', 'Noto Sans CJK SC', sans-serif" font-size="24" fill="#111">国际黄金日线图</text>
<path d="M861 203.5 L843.5 214 Q842 215 842 217 L842 271 Q842 273 843.5 274 L861 283.5 Z" fill="#eef0f4"/>
<polyline points="855.8,237.8 849,243.6 855.8,249.6" fill="none" stroke="#646f82" stroke-width="1.8" stroke-linecap="round" stroke-linejoin="round"/>
</svg>
</body></html>
